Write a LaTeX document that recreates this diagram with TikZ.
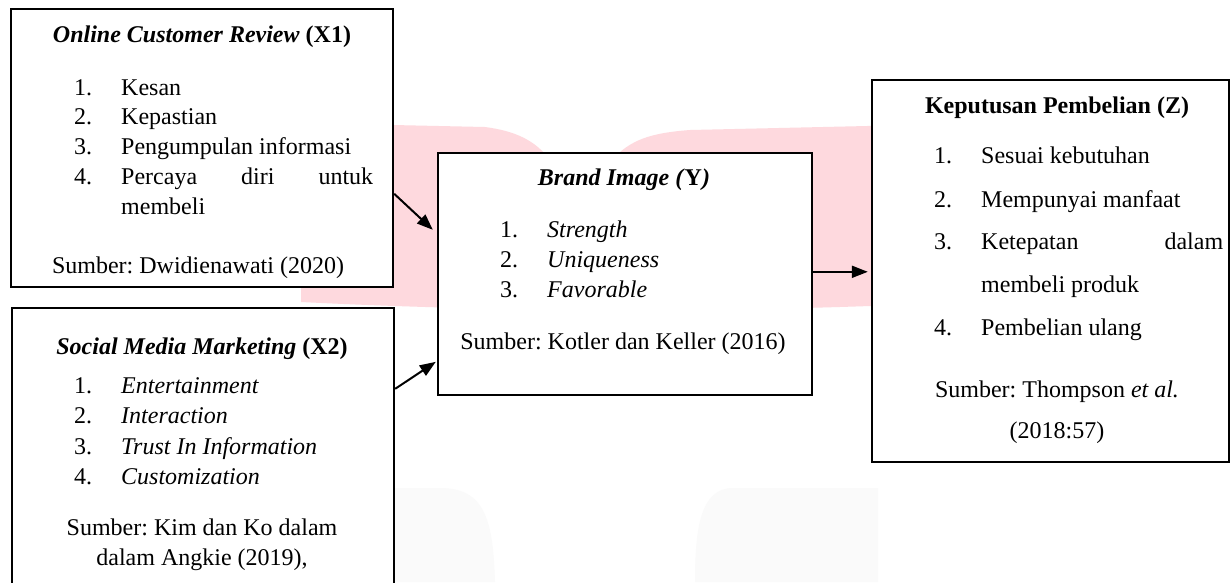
\documentclass[tikz,border=0pt]{standalone}
\usepackage{fontspec}
\setmainfont{Liberation Serif}
\usetikzlibrary{arrows.meta,calc}
\definecolor{wmpink}{RGB}{254,217,222}
\definecolor{wmgrey}{RGB}{250,250,250}
\frenchspacing
\begin{document}
\begin{tikzpicture}[x=1pt,y=-1pt,
  box/.style={draw=black,line width=2.4pt,fill=white,inner sep=0pt},
  txt/.style={inner sep=0pt,anchor=base west,font=\fontsize{24}{29}\selectfont},
  ctxt/.style={txt,anchor=base},
  link/.style={line width=2pt,-{Triangle[length=16pt,width=12pt]}}]
\useasboundingbox (0,0) rectangle (1230,582);
\fill[white] (0,0) rectangle (1230,582);
% watermark
\fill[wmpink] (301,123) -- (485,127) .. controls (515,131) and (535,140) .. (550,160)
  -- (560,220) -- (605,220) -- (612,160) .. controls (630,140) and (650,133) .. (690,130)
  -- (1000,123) -- (1000,305) -- (870,306) .. controls (700,312) and (500,312) .. (301,302) -- cycle;
\fill[wmgrey] (380,582) -- (380,488) -- (440,488) .. controls (485,488) and (493,520) .. (495,582) -- cycle;
\fill[wmgrey] (878,582) -- (878,488) -- (733,488) .. controls (700,488) and (695,530) .. (695,582) -- cycle;

% boxes
\node[box,minimum width=382pt,minimum height=278pt] (x1) at (202,148) {};
\node[box,minimum width=382pt,minimum height=312pt] (x2) at (203,464) {};
\node[box,minimum width=374pt,minimum height=242pt] (y) at (625,274) {};
\node[box,minimum width=357pt,minimum height=382pt] (z) at (1050.5,271) {};

% X1 text
\node[ctxt] (x1t) at (202,42) {\textbf{\textit{Online Customer Review}} \textbf{(X1)}};
\node[txt] (x1n1) at (74,95) {1.};  \node[txt] (x1i1) at (121,95) {Kesan};
\node[txt] (x1n2) at (74,124) {2.}; \node[txt] (x1i2) at (121,124) {Kepastian};
\node[txt] (x1n3) at (74,154) {3.}; \node[txt] (x1i3) at (121,154) {Pengumpulan informasi};
\node[txt] (x1n4) at (74,184) {4.}; \node[txt] (x1i4) at (121,184) {\makebox[252pt][s]{Percaya diri untuk}};
\node[txt] (x1i4b) at (121,214) {membeli};
\node[ctxt] (x1s) at (198,273) {Sumber: Dwidienawati (2020)};

% X2 text
\node[ctxt] (x2t) at (202,354) {\textbf{\textit{Social Media Marketing}} \textbf{(X2)}};
\node[txt] (x2n1) at (74,393) {1.}; \node[txt] (x2i1) at (121,393) {\textit{Entertainment}};
\node[txt] (x2n2) at (74,423) {2.}; \node[txt] (x2i2) at (121,423) {\textit{Interaction}};
\node[txt] (x2n3) at (74,454) {3.}; \node[txt] (x2i3) at (121,454) {\textit{Trust In Information}};
\node[txt] (x2n4) at (74,484) {4.}; \node[txt] (x2i4) at (121,484) {\textit{Customization}};
\node[ctxt] (x2s1) at (202,535) {Sumber: Kim dan Ko dalam};
\node[ctxt] (x2s2) at (202,565) {dalam Angkie (2019),};

% Y text
\node[ctxt] (yt) at (624,185) {\textbf{\textit{Brand Image (}Y\textit{)}}};
\node[txt] (yn1) at (500,237) {1.}; \node[txt] (yi1) at (547,237) {\textit{Strength}};
\node[txt] (yn2) at (500,267) {2.}; \node[txt] (yi2) at (547,267) {\textit{Uniqueness}};
\node[txt] (yn3) at (500,297) {3.}; \node[txt] (yi3) at (547,297) {\textit{Favorable}};
\node[ctxt] (ys) at (623,349) {Sumber: Kotler dan Keller (2016)};

% Z text
\node[ctxt] (zt) at (1057,113) {\textbf{Keputusan Pembelian (Z)}};
\node[txt] (zn1) at (934,163) {1.}; \node[txt] (zi1) at (981,163) {Sesuai kebutuhan};
\node[txt] (zn2) at (934,207) {2.}; \node[txt] (zi2) at (981,207) {Mempunyai manfaat};
\node[txt] (zn3) at (934,249) {3.}; \node[txt] (zi3) at (981,249) {\makebox[242pt][s]{Ketepatan dalam}};
\node[txt] (zi3b) at (981,292) {membeli produk};
\node[txt] (zn4) at (934,335) {4.}; \node[txt] (zi4) at (981,335) {Pembelian ulang};
\node[ctxt] (zs1) at (1057,397) {Sumber: Thompson \textit{et al.}};
\node[ctxt] (zs2) at (1057,438) {(2018:57)};

% connectors
\draw[link] ($(x1.north east)+(0,186)$) -- ($(y.north west)+(-4,78)$);
\draw[link] ($(x2.north east)+(0,82)$) -- ($(y.north west)+(-1,210)$);
\draw[link] ($(y.north east)+(0,120)$) -- ($(z.north west)+(-3,193)$);
\end{tikzpicture}
\end{document}
